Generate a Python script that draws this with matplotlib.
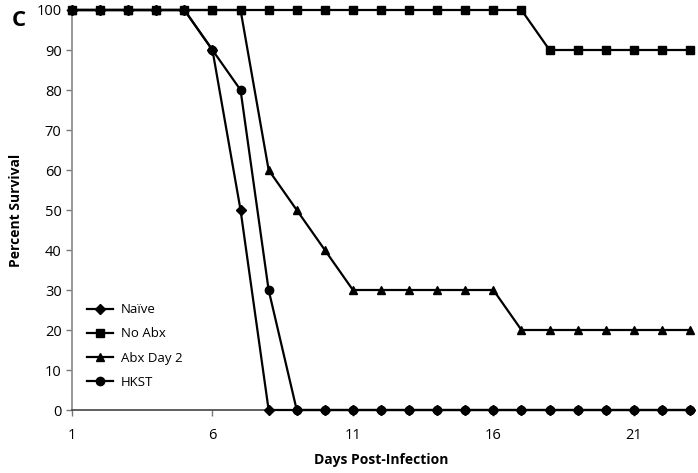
import matplotlib.pyplot as plt

plt.rcParams['font.family'] = ['Open Sans', 'DejaVu Sans']

days = list(range(1, 24))
naive = [100, 100, 100, 100, 100, 90, 50] + [0] * 16
no_abx = [100] * 17 + [90] * 6
abx_day2 = [100] * 7 + [60, 50, 40] + [30] * 6 + [20] * 7
hkst = [100, 100, 100, 100, 100, 90, 80, 30] + [0] * 15

series = [
    ('Naïve', naive, 'D', 5),
    ('No Abx', no_abx, 's', 5.5),
    ('Abx Day 2', abx_day2, '^', 6),
    ('HKST', hkst, 'o', 6),
]

fig = plt.figure(figsize=(6.98, 4.73), dpi=100)
ax = fig.add_axes([72 / 698, 63 / 473, 618 / 698, 400 / 473])

for name, vals, mk, ms in series:
    ax.plot(days, vals, color='black', linewidth=1.6, marker=mk,
            markersize=ms, label=name, clip_on=False, zorder=3)

ax.set_xlim(1, 23)
ax.set_ylim(0, 100)
ax.set_xticks([1, 6, 11, 16, 21])
ax.set_yticks(range(0, 101, 10))
ax.tick_params(axis='both', labelsize=10.5, length=4, width=1,
               color='#777777', direction='out')
ax.tick_params(axis='x', pad=9)

for side in ['top', 'right']:
    ax.spines[side].set_visible(False)
ax.spines['left'].set_color('#888888')
ax.spines['left'].set_linewidth(1.2)
ax.spines['bottom'].set_color('#444444')
ax.spines['bottom'].set_linewidth(1.2)

ax.set_xlabel('Days Post-Infection', fontsize=10, fontweight='bold', labelpad=7)
ax.set_ylabel('Percent Survival', fontsize=10, fontweight='bold', labelpad=10)

leg = ax.legend(loc='upper left', bbox_to_anchor=(0.015, 0.28), frameon=False,
                fontsize=9.5, handlelength=2.0, labelspacing=0.85,
                handletextpad=0.6, borderaxespad=0)

fig.text(12 / 698, 1 - 20 / 473, 'C', fontsize=16, fontweight='bold',
         va='center', ha='left')

fig.savefig('out.png', dpi=100)
